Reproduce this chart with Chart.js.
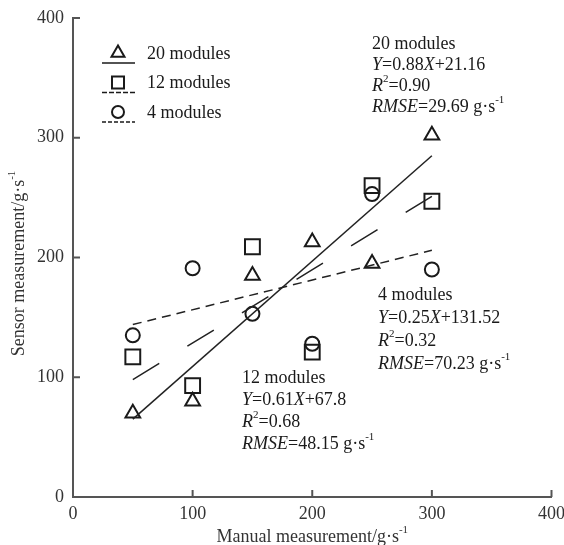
<!DOCTYPE html>
<html>
<head>
<meta charset="utf-8">
<script src="https://cdn.jsdelivr.net/npm/chart.js@4.4.1/dist/chart.umd.min.js"></script>
<style>
  html, body { margin: 0; padding: 0; background: #fff; }
  #chart { display: block; }
</style>
</head>
<body>
<canvas id="chart" width="564" height="545"></canvas>
<script>
// ---- data ----
const manual = [50, 100, 150, 200, 250, 300];
const sensor20 = [70, 80, 185, 213, 195, 302];
const sensor12 = [117, 93, 209, 121, 260, 247];
const sensor4 = [135, 191, 153, 128, 253, 190];

// fitted lines, end points
const fitX = [50, 300];
const fit20 = [65, 285];
const fit12 = [98, 251];
const fit4 = [144, 206];

const seriesNames = ['20 modules', '12 modules', '4 modules'];
const slopes = ['0.88', '0.61', '0.25'];
const intercepts = ['21.16', '67.8', '131.52'];
const r2Values = ['0.90', '0.68', '0.32'];
const rmseValues = ['29.69', '48.15', '70.23'];

const tickValues = [0, 100, 200, 300, 400];

const FONT = '"Liberation Serif", "Times New Roman", serif';
const INK = '#1a1a1a';

// ---- rich text helpers (italic / superscript pieces) ----
function segFont(style, size) {
    if (style === 'i') return 'italic ' + size + 'px ' + FONT;
    if (style === 'sup') return Math.round(size * 0.6) + 'px ' + FONT;
    return size + 'px ' + FONT;
}

function measureRich(ctx, segs, size) {
    let w = 0;
    segs.forEach(([t, s]) => {
        ctx.font = segFont(s, size);
        w += ctx.measureText(t).width;
    });
    return w;
}

function drawRich(ctx, x, y, segs, size) {
    ctx.textBaseline = 'middle';
    ctx.textAlign = 'left';
    segs.forEach(([t, s]) => {
        ctx.font = segFont(s, size);
        const dy = s === 'sup' ? -size * 0.38 : 0;
        ctx.fillText(t, x, y + dy);
        x += ctx.measureText(t).width;
    });
}

function fitBlock(i) {
    return [
        [[seriesNames[i], 'n']],
        [['Y', 'i'], ['=' + slopes[i], 'n'], ['X', 'i'], ['+' + intercepts[i], 'n']],
        [['R', 'i'], ['2', 'sup'], ['=' + r2Values[i], 'n']],
        [['RMSE', 'i'], ['=' + rmseValues[i] + ' g\u00b7s', 'n'], ['-1', 'sup']]
    ];
}

// where each annotation block sits (pixels: left, first line centre, line gap)
const blockPos = [
    { x: 372, y: 44, gap: 21 },
    { x: 242, y: 378, gap: 22 },
    { x: 378, y: 295, gap: 23 }
];

const unitSegs = [['g\u00b7s', 'n'], ['-1', 'sup']];

const figurePlugin = {
    id: 'figureExtras',
    afterDraw(chart) {
        const ctx = chart.ctx;
        const xs = chart.scales.x;
        const ys = chart.scales.y;
        const area = chart.chartArea;
        ctx.save();

        // inward tick marks
        ctx.strokeStyle = '#555';
        ctx.lineWidth = 2;
        tickValues.forEach(v => {
            if (v === 0) return;
            const px = xs.getPixelForValue(v);
            ctx.beginPath();
            ctx.moveTo(px, area.bottom);
            ctx.lineTo(px, area.bottom - 7);
            ctx.stroke();
            const py = ys.getPixelForValue(v);
            ctx.beginPath();
            ctx.moveTo(area.left, py);
            ctx.lineTo(area.left + 7, py);
            ctx.stroke();
        });

        // axis titles
        ctx.fillStyle = '#333';
        const xt = [['Manual measurement/', 'n']].concat(unitSegs);
        const xw = measureRich(ctx, xt, 18);
        drawRich(ctx, (area.left + area.right) / 2 - xw / 2, 537, xt, 18);

        const yt = [['Sensor measurement/', 'n']].concat(unitSegs);
        const yw = measureRich(ctx, yt, 18);
        ctx.save();
        ctx.translate(19, (area.top + area.bottom) / 2 + 6);
        ctx.rotate(-Math.PI / 2);
        drawRich(ctx, -yw / 2, 0, yt, 18);
        ctx.restore();

        // legend
        const styles = ['triangle', 'rect', 'circle'];
        const radii = [7.5, 8.5, 6];
        const dashes = [[], [5, 2], [4, 2]];
        const legendTop = 53;
        const legendGap = 29.5;
        for (let i = 0; i < 3; i++) {
            const cy = legendTop + i * legendGap;
            ctx.strokeStyle = INK;
            ctx.fillStyle = 'rgba(0,0,0,0)';
            ctx.lineWidth = 2;
            ctx.setLineDash([]);
            Chart.helpers.drawPoint(ctx, { pointStyle: styles[i], radius: radii[i], rotation: 0, borderWidth: 2 }, 118, cy);
            ctx.lineWidth = 1.5;
            ctx.setLineDash(dashes[i]);
            ctx.beginPath();
            ctx.moveTo(102, cy + 10);
            ctx.lineTo(135, cy + 10);
            ctx.stroke();
            ctx.setLineDash([]);
            ctx.fillStyle = INK;
            drawRich(ctx, 147, cy + 1, [[seriesNames[i], 'n']], 18);
        }

        // fit annotations
        ctx.fillStyle = INK;
        blockPos.forEach((p, i) => {
            fitBlock(i).forEach((line, k) => {
                drawRich(ctx, p.x, p.y + k * p.gap, line, 18);
            });
        });

        ctx.restore();
    }
};

function pts(ys) {
    return manual.map((x, i) => ({ x: x, y: ys[i] }));
}
function fitPts(ys) {
    return fitX.map((x, i) => ({ x: x, y: ys[i] }));
}

const markerBase = {
    type: 'scatter',
    showLine: false,
    borderColor: INK,
    backgroundColor: 'rgba(0,0,0,0)',
    pointBorderWidth: 2,
    pointHoverRadius: 0
};

const lineBase = {
    type: 'line',
    showLine: true,
    pointRadius: 0,
    borderColor: '#222',
    borderWidth: 1.5,
    fill: false,
    tension: 0
};

new Chart(document.getElementById('chart'), {
    type: 'scatter',
    data: {
        datasets: [
            Object.assign({}, lineBase, { label: 'fit20', data: fitPts(fit20) }),
            Object.assign({}, lineBase, { label: 'fit12', data: fitPts(fit12), borderDash: [31, 33] }),
            Object.assign({}, lineBase, { label: 'fit4', data: fitPts(fit4), borderDash: [9, 6] }),
            Object.assign({}, markerBase, { label: seriesNames[0], data: pts(sensor20), pointStyle: 'triangle', pointRadius: 8.5 }),
            Object.assign({}, markerBase, { label: seriesNames[1], data: pts(sensor12), pointStyle: 'rect', pointRadius: 10.5 }),
            Object.assign({}, markerBase, { label: seriesNames[2], data: pts(sensor4), pointStyle: 'circle', pointRadius: 7 })
        ]
    },
    options: {
        responsive: false,
        animation: false,
        events: [],
        layout: { padding: { left: 0, right: 12, top: 18, bottom: 0 } },
        plugins: {
            legend: { display: false },
            tooltip: { enabled: false }
        },
        scales: {
            x: {
                type: 'linear',
                min: 0,
                max: 400,
                grid: { display: false, drawTicks: false },
                border: { display: true, color: '#555', width: 2 },
                ticks: {
                    stepSize: 100,
                    padding: 6,
                    color: '#333',
                    font: { family: FONT, size: 18 },
                    maxRotation: 0
                },
                afterFit(scale) {
                    scale.height = 48;
                    scale.paddingLeft = 0;
                    scale.paddingRight = 0;
                }
            },
            y: {
                type: 'linear',
                min: 0,
                max: 400,
                grid: { display: false, drawTicks: false },
                border: { display: true, color: '#555', width: 2 },
                ticks: {
                    stepSize: 100,
                    padding: 9,
                    color: '#333',
                    font: { family: FONT, size: 18 }
                },
                afterFit(scale) {
                    scale.width = 73;
                    scale.paddingTop = 0;
                    scale.paddingBottom = 0;
                }
            }
        }
    },
    plugins: [figurePlugin]
});
</script>
</body>
</html>
